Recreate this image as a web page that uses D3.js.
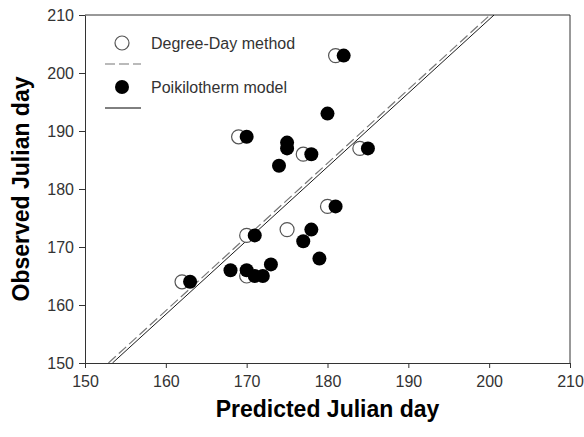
<!DOCTYPE html>
<html lang="en">
<head>
    <meta charset="UTF-8">
    <title>Observed vs predicted Julian day</title>
    <script src="https://cdn.jsdelivr.net/npm/d3@7"></script>
    <style>
        body { margin: 0; background: #fff; }
        text { font-family: Arial, "Liberation Sans", sans-serif; fill: #222; }
        .axis text { font-size: 16px; fill: #333; }
        .axis path, .axis line { stroke: #333; }
        .title { font-size: 23px; font-weight: bold; fill: #000; }
        .legend text { font-size: 16px; fill: #333; }
    </style>
</head>
<body>
    <svg id="chart" width="584" height="437"></svg>
    <script>
        // Degree-Day method (open circles)
        const ddPredicted = [162, 170, 170, 175, 180, 177, 169, 181, 184]
        const ddObserved  = [164, 165, 172, 173, 177, 186, 189, 203, 187]
        // Poikilotherm model (filled circles)
        const pkPredicted = [163, 168, 170, 171, 172, 173, 171, 178, 177, 179, 181, 178, 174, 175, 175, 170, 180, 182, 185]
        const pkObserved  = [164, 166, 166, 165, 165, 167, 172, 173, 171, 168, 177, 186, 184, 188, 187, 189, 193, 203, 187]
        // fitted lines, as [predicted, observed] end points
        const ddFit = [[152.9, 150], [200.1, 210]]
        const pkFit = [[153.4, 150], [200.6, 210]]
        const tickValues = [150, 160, 170, 180, 190, 200, 210]

        const svg = d3.select("#chart")
        const margin = {left: 85, right: 14, top: 15, bottom: 74}
        const width = +svg.attr("width") - margin.left - margin.right
        const height = +svg.attr("height") - margin.top - margin.bottom

        const x = d3.scaleLinear().domain([150, 210]).range([margin.left, margin.left + width])
        const y = d3.scaleLinear().domain([150, 210]).range([margin.top + height, margin.top])

        svg.append("clipPath").attr("id", "plot")
            .append("rect").attr("x", margin.left).attr("y", margin.top)
            .attr("width", width).attr("height", height)

        // frame (top + right)
        svg.append("path")
            .attr("d", `M${margin.left},${margin.top}H${margin.left + width}V${margin.top + height}`)
            .attr("fill", "none").attr("stroke", "#333")

        svg.append("g").attr("class", "axis")
            .attr("transform", `translate(0,${margin.top + height})`)
            .call(d3.axisBottom(x).tickValues(tickValues).tickSizeInner(5).tickSizeOuter(0).tickPadding(8))
        svg.append("g").attr("class", "axis")
            .attr("transform", `translate(${margin.left},0)`)
            .call(d3.axisLeft(y).tickValues(tickValues).tickSizeInner(6).tickSizeOuter(0).tickPadding(5))

        const line = d3.line().x(d => x(d[0])).y(d => y(d[1]))
        const fits = svg.append("g").attr("clip-path", "url(#plot)")
        fits.append("path").attr("d", line(ddFit))
            .attr("fill", "none").attr("stroke", "#777").attr("stroke-width", 1.2).attr("stroke-dasharray", "10,4")
        fits.append("path").attr("d", line(pkFit))
            .attr("fill", "none").attr("stroke", "#000").attr("stroke-width", 0.9)

        svg.append("g").selectAll("circle").data(ddPredicted).join("circle")
            .attr("cx", d => x(d)).attr("cy", (d, i) => y(ddObserved[i])).attr("r", 7)
            .attr("fill", "#fff").attr("stroke", "#555").attr("stroke-width", 1.2)
        svg.append("g").selectAll("circle").data(pkPredicted).join("circle")
            .attr("cx", d => x(d)).attr("cy", (d, i) => y(pkObserved[i])).attr("r", 7)
            .attr("fill", "#000")

        // legend
        const lg = svg.append("g").attr("class", "legend")
        lg.append("circle").attr("cx", 122).attr("cy", 43).attr("r", 7)
            .attr("fill", "#fff").attr("stroke", "#555").attr("stroke-width", 1.2)
        lg.append("text").attr("x", 151).attr("y", 49).text("Degree-Day method")
        lg.append("line").attr("x1", 105).attr("x2", 141).attr("y1", 64).attr("y2", 64)
            .attr("stroke", "#777").attr("stroke-width", 1.2).attr("stroke-dasharray", "10,4")
        lg.append("circle").attr("cx", 122).attr("cy", 87).attr("r", 7).attr("fill", "#000")
        lg.append("text").attr("x", 151).attr("y", 93).text("Poikilotherm model")
        lg.append("line").attr("x1", 105).attr("x2", 141).attr("y1", 108).attr("y2", 108)
            .attr("stroke", "#000").attr("stroke-width", 1)

        svg.append("text").attr("class", "title")
            .attr("x", margin.left + width / 2).attr("y", 417).attr("text-anchor", "middle")
            .text("Predicted Julian day")
        svg.append("text").attr("class", "title")
            .attr("transform", `translate(29,${margin.top + height / 2}) rotate(-90)`)
            .attr("text-anchor", "middle")
            .text("Observed Julian day")
    </script>
</body>
</html>
